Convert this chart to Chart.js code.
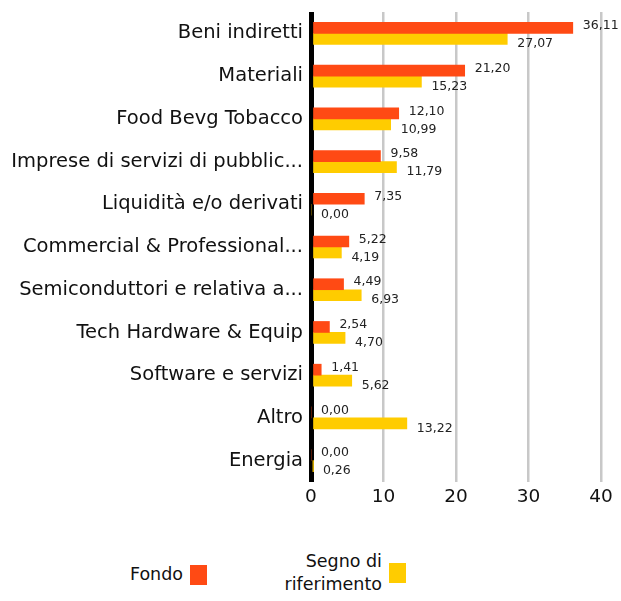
<!DOCTYPE html>
<html>
<head>
<meta charset="utf-8">
<script src="https://cdn.jsdelivr.net/npm/chart.js@4.4.1/dist/chart.umd.min.js"></script>
<style>
  html, body { margin: 0; padding: 0; background: #fff; }
  body { width: 621px; height: 601px; position: relative; overflow: hidden; font-family: "DejaVu Sans", sans-serif; }
  #wrap { position: absolute; left: 0; top: 0; width: 621px; height: 520px; }
  .legend { position: absolute; top: 550px; left: 0; width: 621px; height: 51px; font-size: 17.5px; color: #111; }
  .item { position: absolute; display: flex; align-items: center; }
  .item .txt { text-align: right; line-height: 23px; }
  .item .box { width: 17px; height: 20px; margin-left: 7px; }
</style>
</head>
<body>
<div id="wrap"><canvas id="c" width="621" height="520"></canvas></div>
<div class="legend">
  <div class="item" style="right:414px; top:13px;"><span class="txt" id="l0"></span><span class="box" id="b0"></span></div>
  <div class="item" style="right:215px; top:0px;"><span class="txt" id="l1"></span><span class="box" id="b1"></span></div>
</div>
<script>
const categories = [
  "Beni indiretti",
  "Materiali",
  "Food Bevg Tobacco",
  "Imprese di servizi di pubblic...",
  "Liquidità e/o derivati",
  "Commercial & Professional...",
  "Semiconduttori e relativa a...",
  "Tech Hardware & Equip",
  "Software e servizi",
  "Altro",
  "Energia"
];
const fondo = [36.11, 21.20, 12.10, 9.58, 7.35, 5.22, 4.49, 2.54, 1.41, 0.00, 0.00];
const riferimento = [27.07, 15.23, 10.99, 11.79, 0.00, 4.19, 6.93, 4.70, 5.62, 13.22, 0.26];
const seriesNames = ["Fondo", "Segno di riferimento"];
const xTicks = [0, 10, 20, 30, 40];

const COLORS = ["#ff4a14", "#ffcc00"];
const FONT = '"DejaVu Sans", sans-serif';

document.getElementById('l0').textContent = seriesNames[0];
document.getElementById('l1').innerHTML = "Segno di<br>riferimento";
document.getElementById('b0').style.background = COLORS[0];
document.getElementById('b1').style.background = COLORS[1];

const fmt = v => v.toFixed(2).replace('.', ',');

const labelPlugin = {
  id: 'valueLabels',
  afterDatasetsDraw(chart) {
    const ctx = chart.ctx;
    ctx.save();
    ctx.font = '12.5px ' + FONT;
    ctx.fillStyle = '#222';
    ctx.textBaseline = 'middle';
    ctx.textAlign = 'left';
    chart.data.datasets.forEach((ds, di) => {
      const meta = chart.getDatasetMeta(di);
      meta.data.forEach((bar, i) => {
        const dy = di === 0 ? -2 : 5;
        ctx.fillText(fmt(ds.data[i]), bar.x + 10, bar.y + dy);
      });
    });
    ctx.restore();
  }
};

new Chart(document.getElementById('c'), {
  type: 'bar',
  data: {
    labels: categories,
    datasets: [
      { label: seriesNames[0], data: fondo, backgroundColor: COLORS[0], barThickness: 11, borderWidth: 0 },
      { label: seriesNames[1], data: riferimento, backgroundColor: COLORS[1], barThickness: 11, borderWidth: 0 }
    ]
  },
  options: {
    indexAxis: 'y',
    responsive: false,
    animation: false,
    layout: { padding: { top: 12, right: 20, bottom: 0, left: 0 } },
    plugins: { legend: { display: false }, tooltip: { enabled: false } },
    scales: {
      x: {
        min: 0, max: 40,
        afterBuildTicks(scale) { scale.ticks = xTicks.map(v => ({ value: v })); },
        afterFit(scale) { scale.height = 38; scale.paddingLeft = 0; scale.paddingRight = 0; },
        ticks: { font: { family: FONT, size: 18.5 }, color: '#111', padding: 4 },
        grid: {
          drawTicks: false,
          color: c => (c.tick && c.tick.value === 0) ? '#000' : '#c8c8c8',
          lineWidth: c => (c.tick && c.tick.value === 0) ? 5 : 2.5
        },
        border: { display: false }
      },
      y: {
        afterFit(scale) { scale.width = 311; scale.paddingTop = 0; scale.paddingBottom = 0; },
        ticks: { font: { family: FONT, size: 19.5 }, color: '#111', padding: 8 },
        grid: { display: false, drawTicks: false },
        border: { display: false }
      }
    }
  },
  plugins: [labelPlugin]
});
</script>
</body>
</html>
